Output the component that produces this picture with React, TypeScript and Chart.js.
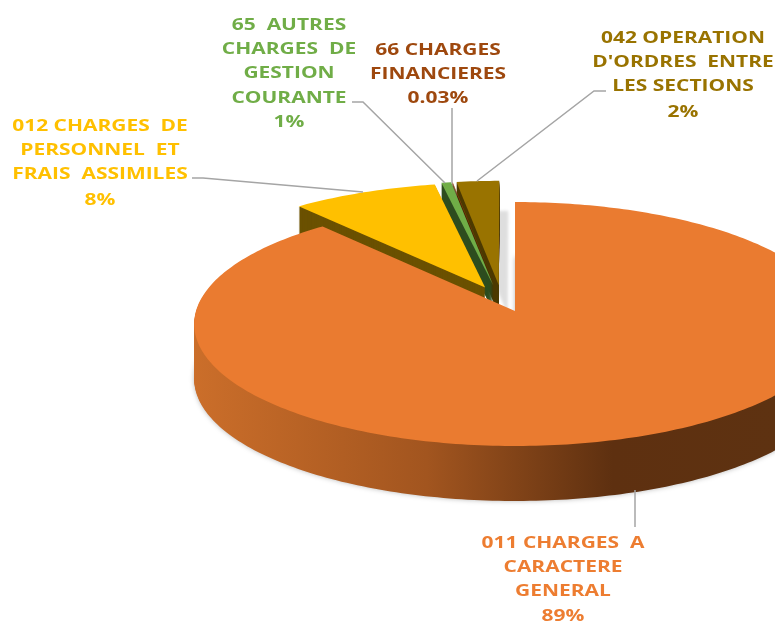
import React, { useEffect, useRef } from "react";
import { Chart, registerables } from "chart.js";

Chart.register(...registerables);

// ---- data ----
const categories = [
  "011 CHARGES A CARACTERE GENERAL",
  "012 CHARGES DE PERSONNEL ET FRAIS ASSIMILES",
  "65 AUTRES CHARGES DE GESTION COURANTE",
  "66 CHARGES FINANCIERES",
  "042 OPERATION D'ORDRES ENTRE LES SECTIONS",
];
const values = [88.7, 8.3, 0.55, 0.03, 2.42];
const percentLabels = ["89%", "8%", "1%", "0.03%", "2%"];
const labelLines = [
  ["011 CHARGES  A", "CARACTERE", "GENERAL"],
  ["012 CHARGES  DE", "PERSONNEL  ET", "FRAIS  ASSIMILES"],
  ["65  AUTRES", "CHARGES  DE", "GESTION", "COURANTE"],
  ["66 CHARGES", "FINANCIERES"],
  ["042 OPERATION", "D'ORDRES  ENTRE", "LES SECTIONS"],
];

// ---- styling ----
const topColors = ["#EA7B30", "#FFC000", "#70AD47", "#9E480E", "#997300"];
const wallColors = ["", "#6B5100", "#2E4D1F", "#4A2206", "#4D3A00"];
const textColors = ["#ED7D31", "#FFC000", "#70AD47", "#9E480E", "#997300"];
const labelBoxes = [
  { x: 563, ys: [542, 566, 590, 615] },
  { x: 100, ys: [125, 149, 173, 199] },
  { x: 289, ys: [24, 48, 72, 97, 121] },
  { x: 438, ys: [49, 73, 97] },
  { x: 683, ys: [37, 61, 85, 111] },
];
const leaders = [
  [[635, 490], [635, 527]],
  [[192, 178], [203, 178], [363, 192]],
  [[352, 102], [363, 102], [445, 183]],
  [[452, 108], [452, 183]],
  [[606, 91], [594, 91], [477, 181]],
];
const RADIUS = 280;
const EXPLODE = 0.22;
const offsets = [0, 4 * EXPLODE * RADIUS, 4 * EXPLODE * RADIUS, 4 * EXPLODE * RADIUS, 4 * EXPLODE * RADIUS];
const nudgeX = [0, 0, -10, -10, -11];
const depths = [55, 30, 26, 26, 30];
const drawOrder = [4, 3, 2, 1, 0];
const A = 319;
const K = 120.6;
const P = 0.1066;
const H_STRETCH = 1.27;

const piePlugin = {
  id: "tiltedPie",
  beforeDatasetDraw(chart: any) {
    const ctx: CanvasRenderingContext2D = chart.ctx;
    const arcs = chart.getDatasetMeta(0).data;
    const grad = ctx.createLinearGradient(195, 0, 775, 0);
    grad.addColorStop(0, "#CB6E2A");
    grad.addColorStop(0.4, "#A2551F");
    grad.addColorStop(0.72, "#5E3010");
    grad.addColorStop(1, "#5E3211");

    drawOrder.forEach((i) => {
      const arc = arcs[i];
      const { x, y, startAngle, endAngle, outerRadius } = arc.getProps(
        ["x", "y", "startAngle", "endAngle", "outerRadius"],
        true
      );
      const mid = (startAngle + endAngle) / 2;
      const off = (arc.options.offset || 0) / 4 / outerRadius;
      const ox = Math.cos(mid) * off;
      const oy = Math.sin(mid) * off;
      const project = (px: number, py: number): [number, number] => {
        const f = 1 / (1 - P * py);
        return [x + nudgeX[i] + A * px * f, y + K * py * f];
      };
      const path = new Path2D();
      const [ax, ay] = project(ox, oy);
      path.moveTo(ax, ay);
      const n = Math.max(2, Math.ceil(((endAngle - startAngle) * 180) / Math.PI));
      for (let s = 0; s <= n; s++) {
        const t = startAngle + ((endAngle - startAngle) * s) / n;
        const [sx, sy] = project(ox + Math.cos(t), oy + Math.sin(t));
        path.lineTo(sx, sy);
      }
      path.closePath();

      const wall = i === 0 ? grad : wallColors[i];
      const depth = depths[i];
      ctx.save();
      for (let d = depth; d >= 1; d--) {
        ctx.save();
        if (d === depth && i === 0) {
          ctx.shadowColor = "rgba(0,0,0,0.28)";
          ctx.shadowBlur = 5;
        }
        if (d === depth && i === 4) {
          ctx.shadowColor = "rgba(0,0,0,0.13)";
          ctx.shadowBlur = 3;
          ctx.shadowOffsetX = 9;
        }
        ctx.translate(0, d);
        ctx.fillStyle = wall;
        ctx.fill(path);
        ctx.restore();
      }
      ctx.fillStyle = topColors[i];
      ctx.fill(path);
      ctx.restore();
    });
    return false;
  },
  afterDraw(chart: any) {
    const ctx: CanvasRenderingContext2D = chart.ctx;
    ctx.save();
    ctx.strokeStyle = "#A5A5A5";
    ctx.lineWidth = 1.5;
    leaders.forEach((pts) => {
      ctx.beginPath();
      pts.forEach(([px, py], j) => (j ? ctx.lineTo(px, py) : ctx.moveTo(px, py)));
      ctx.stroke();
    });
    ctx.font = 'bold 16.5px "Open Sans"';
    ctx.textAlign = "center";
    ctx.textBaseline = "middle";
    categories.forEach((_, i) => {
      const box = labelBoxes[i];
      ctx.fillStyle = textColors[i];
      [...labelLines[i], percentLabels[i]].forEach((line, j) => {
        ctx.save();
        ctx.translate(box.x, box.ys[j] + 1);
        ctx.scale(H_STRETCH, 1);
        ctx.fillText(line, 0, 0);
        ctx.restore();
      });
    });
    ctx.restore();
  },
};

export default function App() {
  const ref = useRef<HTMLCanvasElement | null>(null);
  useEffect(() => {
    if (!ref.current) return;
    const chart = new Chart(ref.current, {
      type: "pie",
      data: {
        labels: categories,
        datasets: [{ data: values, backgroundColor: topColors, borderWidth: 0, offset: offsets }],
      },
      options: {
        animation: false,
        responsive: false,
        radius: RADIUS,
        layout: { padding: { left: 255 } },
        plugins: { legend: { display: false }, tooltip: { enabled: false } },
      } as any,
      plugins: [piePlugin as any],
    });
    return () => chart.destroy();
  }, []);
  return (
    <div style={{ position: "absolute", left: 0, top: 0, width: 775, height: 622, background: "#fff" }}>
      <canvas ref={ref} width={775} height={622} style={{ display: "block" }} />
    </div>
  );
}
